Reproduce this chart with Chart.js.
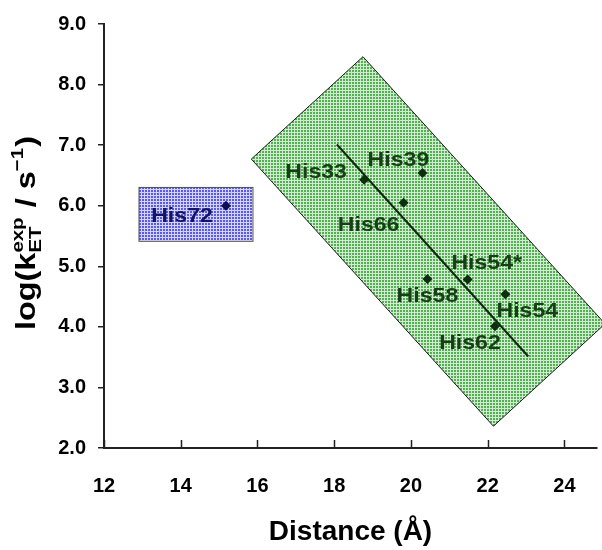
<!DOCTYPE html>
<html><head><meta charset="utf-8">
<script src="https://cdn.jsdelivr.net/npm/chart.js@4/dist/chart.umd.min.js"></script>
<style>html,body{margin:0;padding:0;background:#fff}</style>
</head><body>
<canvas id="c" width="602" height="550"></canvas>
<script>
// ---- data ----
const residues = ['His72','His33','His39','His66','His58','His54*','His54','His62'];
const distance = [15.18, 18.78, 20.30, 19.81, 20.43, 21.48, 22.46, 22.19];
const logK     = [6.00, 6.43, 6.54, 6.05, 4.79, 4.78, 4.54, 4.01];
const groupOf  = ['blue','green','green','green','green','green','green','green'];
const fitX = [18.07, 23.06];
const fitY = [7.01, 3.51];
const xTicks = [12, 14, 16, 18, 20, 22, 24];
const yTicks = [2, 3, 4, 5, 6, 7, 8, 9];
const greenBoxX = [18.75, 25.06, 22.15, 15.84];
const greenBoxY = [8.46, 4.05, 2.36, 6.77];
const blueBoxX = [12.90, 15.87];
const blueBoxY = [5.42, 6.31];

// ---- styles / label placement (pixel offsets from point) ----
const labelOffsets = {
  'His72':[-44,10], 'His33':[-48,-7], 'His39':[-24,-13], 'His66':[-35,23],
  'His58':[0,17], 'His54*':[19,-16], 'His54':[22,17], 'His62':[-25,17]
};
const FONT = '"Liberation Sans", Arial, Helvetica, sans-serif';
const groupColor = {green:'#0c2e0c', blue:'#0e0e55'};
const labelColor = {green:'#163f16', blue:'#141466'};

function makePattern(base, light){
  const t = document.createElement('canvas'); t.width = 3; t.height = 3;
  const g = t.getContext('2d');
  g.fillStyle = base; g.fillRect(0,0,3,3);
  g.fillStyle = light; g.fillRect(0,0,3,1); g.fillRect(0,0,1,3);
  return g;
}

const decor = {
  id:'decor',
  beforeDatasetsDraw(chart){
    const {ctx, scales:{x,y}} = chart;
    ctx.save();
    const gp = ctx.createPattern(makePattern('#52b052','#d2ecd2').canvas,'repeat');
    ctx.beginPath();
    greenBoxX.forEach((v,i)=>{
      const px = x.getPixelForValue(v), py = y.getPixelForValue(greenBoxY[i]);
      i ? ctx.lineTo(px,py) : ctx.moveTo(px,py);
    });
    ctx.closePath();
    ctx.fillStyle = gp; ctx.fill();
    ctx.strokeStyle = '#1a1a1a'; ctx.lineWidth = 1; ctx.stroke();
    const bp = ctx.createPattern(makePattern('#5a5ae6','#d4d4fa').canvas,'repeat');
    const bx1 = x.getPixelForValue(blueBoxX[0]), bx2 = x.getPixelForValue(blueBoxX[1]);
    const by1 = y.getPixelForValue(blueBoxY[1]), by2 = y.getPixelForValue(blueBoxY[0]);
    ctx.fillStyle = bp; ctx.fillRect(bx1,by1,bx2-bx1,by2-by1);
    ctx.strokeStyle = '#555'; ctx.lineWidth = 1;
    ctx.strokeRect(bx1+0.5,by1+0.5,bx2-bx1,by2-by1);
    ctx.restore();
  },
  afterDatasetsDraw(chart){
    const {ctx, scales:{x,y}, chartArea} = chart;
    ctx.save();
    ctx.textAlign = 'center'; ctx.textBaseline = 'middle';
    residues.forEach((r,i)=>{
      const px = x.getPixelForValue(distance[i]) + labelOffsets[r][0];
      const py = y.getPixelForValue(logK[i]) + labelOffsets[r][1];
      ctx.save();
      ctx.translate(px,py); ctx.scale(1.1,1);
      ctx.font = 'bold 21px ' + FONT;
      ctx.fillStyle = labelColor[groupOf[i]];
      ctx.fillText(r,0,0);
      ctx.restore();
    });
    ctx.strokeStyle = '#222'; ctx.lineWidth = 1.5;
    xTicks.forEach(v=>{
      const px = Math.round(x.getPixelForValue(v))+0.5;
      ctx.beginPath(); ctx.moveTo(px, chartArea.bottom); ctx.lineTo(px, chartArea.bottom-8); ctx.stroke();
    });
    ctx.restore();
  },
  afterDraw(chart){
    const {ctx} = chart;
    const big = 'bold 27px ' + FONT, small = 'bold 17px ' + FONT;
    const parts = [
      {t:'log(k', f:big, dy:0},
      {t:'exp', f:small, dy:-12, stack:'ET', sdy:6},
      {t:' / s', f:big, dy:0},
      {t:'\u22121', f:small, dy:-12},
      {t:')', f:big, dy:0}
    ];
    ctx.save();
    ctx.translate(25, 233); ctx.rotate(-Math.PI/2); ctx.scale(1.2,1);
    ctx.fillStyle = '#000'; ctx.textBaseline = 'alphabetic'; ctx.textAlign = 'left';
    let total = 0;
    parts.forEach(p=>{
      ctx.font = p.f; let w = ctx.measureText(p.t).width;
      if(p.stack){ w = Math.max(w, ctx.measureText(p.stack).width); }
      p.w = w; total += w + (p.f===small ? 1 : 0);
    });
    let cx = -total/2; const base = 10;
    parts.forEach(p=>{
      ctx.font = p.f;
      ctx.fillText(p.t, cx, base + p.dy);
      if(p.stack) ctx.fillText(p.stack, cx, base + p.sdy);
      cx += p.w + (p.f===small ? 1 : 0);
    });
    ctx.restore();
  }
};

const points = distance.map((d,i)=>({x:d, y:logK[i]}));
new Chart(document.getElementById('c'), {
  type:'scatter',
  data:{datasets:[
    {label:'fit', type:'line', data:fitX.map((v,i)=>({x:v,y:fitY[i]})),
     borderColor:'#0d280d', borderWidth:2, pointRadius:0, fill:false, order:2},
    {label:'His', data:points, pointStyle:'rectRot', pointRadius:5, pointHoverRadius:5,
     backgroundColor:groupOf.map(g=>groupColor[g]), borderColor:groupOf.map(g=>groupColor[g]), borderWidth:0, order:1}
  ]},
  options:{
    responsive:false, animation:false, devicePixelRatio:1,
    layout:{padding:{top:20,right:0,left:0,bottom:0}},
    plugins:{legend:{display:false}, tooltip:{enabled:false}},
    scales:{
      x:{type:'linear', min:12, max:24.85,
        afterBuildTicks:s=>{s.ticks = xTicks.map(v=>({value:v}));},
        afterFit:s=>{s.height = 102;},
        ticks:{font:{family:FONT, weight:'bold', size:20}, color:'#000', padding:26, maxRotation:0},
        grid:{drawOnChartArea:false, drawTicks:false, color:'#222', lineWidth:1.5},
        border:{display:true, color:'#222', width:2},
        title:{display:true, text:'Distance (\u00C5)', color:'#000', font:{family:FONT, weight:'bold', size:28}, padding:{top:0,bottom:1}}
      },
      y:{min:2, max:9,
        afterBuildTicks:s=>{s.ticks = yTicks.map(v=>({value:v}));},
        afterFit:s=>{s.width = 104;},
        ticks:{font:{family:FONT, weight:'bold', size:20}, color:'#000', padding:12, callback:v=>Number(v).toFixed(1)},
        grid:{drawOnChartArea:false, drawTicks:true, tickLength:6, color:'#222', lineWidth:1.5},
        border:{display:true, color:'#222', width:2}
      }
    }
  },
  plugins:[decor]
});
</script>
</body></html>
